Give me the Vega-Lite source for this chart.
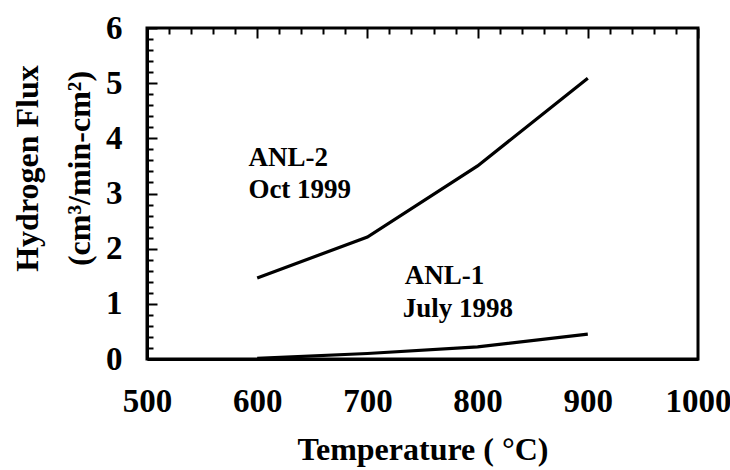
{
  "$schema": "https://vega.github.io/schema/vega-lite/v6.json",
  "width": 551,
  "height": 331,
  "autosize": "none",
  "padding": {"left": 147, "top": 28, "right": 32, "bottom": 111},
  "background": "white",
  "config": {
    "view": {"stroke": "black", "strokeWidth": 3},
    "font": "Liberation Serif",
    "axis": {
      "domainColor": "black", "domainWidth": 3, "ticks": false, "tickSize": 0,
      "grid": true, "gridColor": "black", "gridWidth": 2, "gridOpacity": 1,
      "labelFont": "Liberation Serif", "labelFontWeight": "bold", "labelFontSize": 33,
      "labelColor": "black", "titleFont": "Liberation Serif", "titleFontWeight": "bold",
      "titleFontSize": 32, "titleColor": "black"
    }
  },
  "datasets": {
    "curves": [
      {"series": "ANL-2", "temp": 600, "flux": 1.47},
      {"series": "ANL-2", "temp": 700, "flux": 2.21},
      {"series": "ANL-2", "temp": 800, "flux": 3.5},
      {"series": "ANL-2", "temp": 900, "flux": 5.09},
      {"series": "ANL-1", "temp": 600, "flux": 0.01},
      {"series": "ANL-1", "temp": 700, "flux": 0.1},
      {"series": "ANL-1", "temp": 800, "flux": 0.22},
      {"series": "ANL-1", "temp": 900, "flux": 0.45}
    ],
    "labels": [
      {"text": "ANL-2", "temp": 592, "flux": 3.65},
      {"text": "Oct 1999", "temp": 592, "flux": 3.07},
      {"text": "ANL-1", "temp": 734, "flux": 1.5},
      {"text": "July 1998", "temp": 732, "flux": 0.9}
    ]
  },
  "layer": [
    {
      "data": {"name": "curves"},
      "mark": {"type": "line", "color": "black", "strokeWidth": 3.2},
      "encoding": {
        "x": {
          "field": "temp", "type": "quantitative",
          "scale": {"domain": [500, 1000], "nice": false, "zero": false},
          "axis": {
            "orient": "bottom",
            "title": "Temperature ( °C)",
            "tickCount": 40,
            "values": [500,520,540,560,580,600,620,640,660,680,700,720,740,760,780,800,820,840,860,880,900,920,940,960,980,1000],
            "labelExpr": "datum.value % 100 === 0 ? format(datum.value, 'd') : ''",
            "gridDash": {"condition": {"test": "datum.value % 100 === 0", "value": [10, 2000]}, "value": [6, 2000]},
            "labelPadding": 26, "titlePadding": 16, "labelFlush": false, "labelOverlap": false
          }
        },
        "y": {
          "field": "flux", "type": "quantitative",
          "scale": {"domain": [0, 6], "nice": false},
          "axis": {
            "orient": "left",
            "title": ["Hydrogen Flux", "(cm³/min-cm²)"],
            "tickCount": 40,
            "values": [0,0.2,0.4,0.6,0.8,1,1.2,1.4,1.6,1.8,2,2.2,2.4,2.6,2.8,3,3.2,3.4,3.6,3.8,4,4.2,4.4,4.6,4.8,5,5.2,5.4,5.6,5.8,6],
            "labelExpr": "datum.value % 1 === 0 ? format(datum.value, 'd') : ''",
            "gridDash": {"condition": {"test": "datum.value % 1 === 0", "value": [10, 2000]}, "value": [6, 2000]},
            "labelPadding": 25, "titlePadding": 9, "labelFlush": false, "labelOverlap": false,
            "titleLineHeight": 52, "titleY": 140
          }
        },
        "detail": {"field": "series"}
      }
    },
    {
      "data": {"name": "labels"},
      "mark": {"type": "text", "align": "left", "baseline": "middle", "font": "Liberation Serif", "fontWeight": "bold", "fontSize": 27, "color": "black"},
      "encoding": {
        "x": {"field": "temp", "type": "quantitative"},
        "y": {"field": "flux", "type": "quantitative"},
        "text": {"field": "text"}
      }
    }
  ]
}
